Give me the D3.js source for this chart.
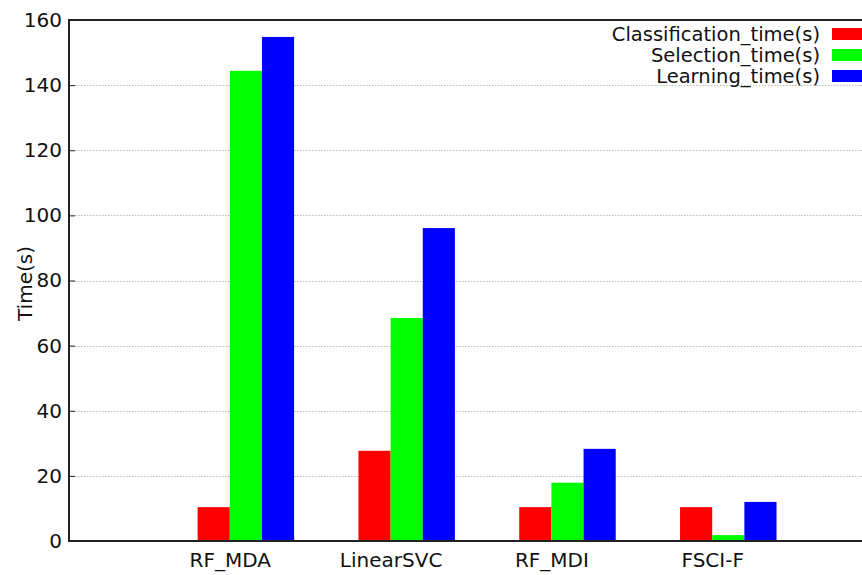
<!DOCTYPE html>
<html>
<head>
<meta charset="utf-8">
<script src="https://cdn.jsdelivr.net/npm/d3@7"></script>
<style>
  body { margin: 0; background: #fff; }
  svg { display: block; overflow: hidden; }
  text { font-family: "DejaVu Sans", sans-serif; fill: #111; }
</style>
</head>
<body>
<div class="chart"></div>
<script>
// categories and series
var methods = ["RF_MDA", "LinearSVC", "RF_MDI", "FSCI-F"];
var seriesNames = ["Classification_time(s)", "Selection_time(s)", "Learning_time(s)"];
var classificationTime = [10.4, 27.7, 10.4, 10.4];
var selectionTime = [144.4, 68.5, 17.9, 1.8];
var learningTime = [154.8, 96.1, 28.3, 12.0];
var yTicks = [0, 20, 40, 60, 80, 100, 120, 140, 160];
var colors = ["#ff0000", "#00ff00", "#0000ff"];

var W = 862, H = 575;
var margin = { top: 20, right: -11, bottom: 34, left: 69 };
var width = W - margin.left - margin.right,
    height = H - margin.top - margin.bottom;

var svg = d3.select(".chart")
    .append("svg")
    .attr("width", W)
    .attr("height", H)
    .append("g")
    .attr("transform", "translate(" + margin.left + "," + margin.top + ")");

var series = [classificationTime, selectionTime, learningTime];

// x is a linear position axis like gnuplot's histogram: category i sits at x=i
var x = d3.scaleLinear().domain([-1, 4]).range([0, width]);
var y = d3.scaleLinear().domain([0, 160]).range([height, 0]);
var barW = 0.2;

// grid lines
svg.append("g")
    .selectAll("line")
    .data(yTicks.slice(1, -1))
    .enter()
    .append("line")
    .attr("x1", 0)
    .attr("x2", width)
    .attr("y1", function (d) { return Math.round(y(d)) + 0.5; })
    .attr("y2", function (d) { return Math.round(y(d)) + 0.5; })
    .style("stroke", "#b8b8b8")
    .style("stroke-width", 1)
    .style("stroke-dasharray", "1.5,1.5");

// bars
series.forEach(function (vals, j) {
    svg.append("g")
        .selectAll("rect")
        .data(vals)
        .enter()
        .append("rect")
        .attr("x", function (d, i) { return x(i + (j - 1) * barW); })
        .attr("width", x(barW) - x(0))
        .attr("y", function (d) { return y(d); })
        .attr("height", function (d) { return y(0) - y(d); })
        .style("fill", colors[j]);
});

// y axis
var yAxis = svg.append("g")
    .call(d3.axisLeft(y).tickValues(yTicks).tickSize(-6).tickPadding(7));
yAxis.select(".domain").remove();
yAxis.selectAll("line").style("stroke", "#222");
yAxis.selectAll("text")
    .style("font-size", "20px")
    .style("font-family", "DejaVu Sans, sans-serif")
    .style("fill", "#111");

// x axis
var xAxis = svg.append("g")
    .attr("transform", "translate(0," + height + ")")
    .call(d3.axisBottom(x)
        .tickValues(d3.range(methods.length))
        .tickFormat(function (d) { return methods[d]; })
        .tickSize(0)
        .tickPadding(12));
xAxis.select(".domain").remove();
xAxis.selectAll("text")
    .style("font-size", "20px")
    .style("font-family", "DejaVu Sans, sans-serif")
    .style("fill", "#111");

// border
svg.append("rect")
    .attr("x", 0)
    .attr("y", 0)
    .attr("width", width)
    .attr("height", height)
    .style("fill", "none")
    .style("stroke", "#222")
    .style("stroke-width", 2);

// y label
svg.append("text")
    .attr("transform", "translate(" + (25 - margin.left) + "," + (height / 2 + 3) + ") rotate(-90)")
    .attr("text-anchor", "middle")
    .attr("dominant-baseline", "central")
    .style("font-size", "20px")
    .text("Time(s)");

// legend
var legend = svg.append("g")
    .attr("transform", "translate(" + (820 - margin.left) + "," + (41 - margin.top) + ")");
legend.selectAll("text")
    .data(seriesNames)
    .enter()
    .append("text")
    .attr("x", 0)
    .attr("y", function (d, i) { return i * 21; })
    .attr("text-anchor", "end")
    .style("font-size", "19.5px")
    .text(function (d) { return d; });
legend.selectAll("rect")
    .data(seriesNames)
    .enter()
    .append("rect")
    .attr("x", 12)
    .attr("y", function (d, i) { return i * 21 - 13; })
    .attr("width", 45)
    .attr("height", 12)
    .style("fill", function (d, i) { return colors[i]; });
</script>
</body>
</html>
